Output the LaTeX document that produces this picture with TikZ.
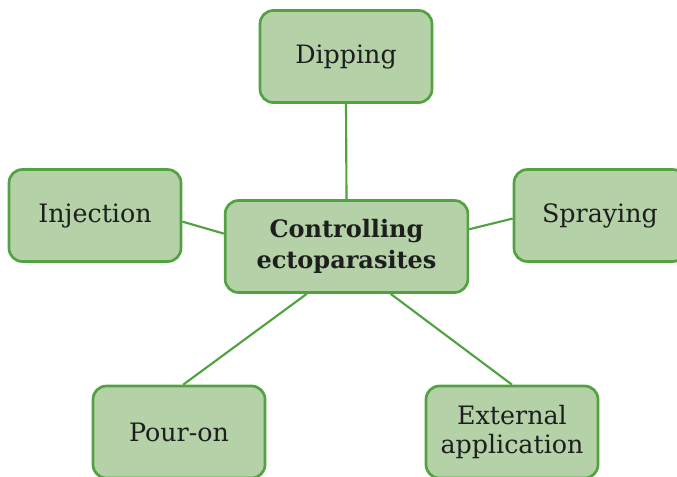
\documentclass[tikz,border=0pt]{standalone}
\usepackage{fontspec}
\setmainfont{DejaVu Serif}
\usetikzlibrary{calc}

\definecolor{boxfill}{RGB}{180,209,167}
\definecolor{boxline}{RGB}{82,162,66}
\definecolor{txt}{RGB}{30,30,30}

\begin{document}
\begin{tikzpicture}[x=0.75pt,y=0.75pt,yscale=-1,xscale=1,
  leaf/.style={draw=boxline,fill=boxfill,line width=2pt,rounded corners=10pt,
    minimum width=129pt,minimum height=69pt,inner sep=0.75pt,align=center,
    text=txt,font=\fontsize{19}{21.5}\selectfont},
  hub/.style={leaf,minimum width=182pt,font=\bfseries\fontsize{18}{23}\selectfont},
  link/.style={draw=boxline,line width=1.6pt}]
\useasboundingbox (0,0) rectangle (677,476);
\clip (0,0) rectangle (677,476);

% Text Node
\node [hub] (ctr) at (346.5,246.5) {Controlling\\ectoparasites};
% Text Node
\node [leaf] (dip) at (346,56.5) {Dipping};
% Text Node
\node [leaf] (inj) at (95,215.5) {Injection};
% Text Node
\node [leaf] (spr) at (600,215.5) {Spraying};
% Text Node
\node [leaf] (pour) at (179,432) {Pour-on};
% Text Node
\node [leaf] (ext) at (512,432) {External\\application};

% Connection
\draw [link] (dip.south) -- (ctr.north);
% Connection
\draw [link] (inj.-4) -- (ctr.174);
% Connection
\draw [link] (ctr.8) -- (spr.182);
% Connection
\draw [link] (ctr.230) -- (pour.85);
% Connection
\draw [link] (ctr.-47) -- (ext.north);

\end{tikzpicture}
\end{document}
